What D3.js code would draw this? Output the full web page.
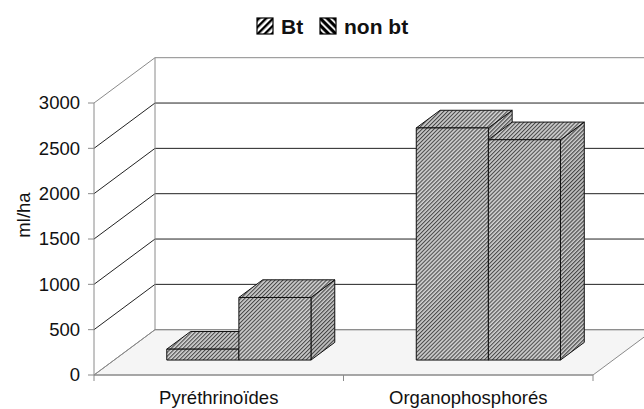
<!DOCTYPE html>
<html><head><meta charset="utf-8">
<script src="https://cdn.jsdelivr.net/npm/d3@7"></script>
<style>body{margin:0;background:#fff}svg{display:block;font-family:"Liberation Sans",Arial,Helvetica,sans-serif}</style>
</head><body><svg id="c" width="644" height="409"></svg>
<script>
const categories = ["Pyréthrinoïdes", "Organophosphorés"];
const seriesNames = ["Bt", "non bt"];
const btValues = [120, 2560];
const nonBtValues = [690, 2430];
const yTicks = [0, 500, 1000, 1500, 2000, 2500, 3000];
const yTitle = "ml/ha";

const svg = d3.select("#c");
const W = 644, H = 409;
const DX = 61, DY = -45.3;      // full depth offset
const Z0 = 0.33, Z1 = 0.72;      // depth occupied by bars

const x = d3.scaleBand().domain(categories).range([94, 593]).padding(0);
const xs = d3.scaleBand().domain(seriesNames).range([0, x.bandwidth()]).paddingInner(0).paddingOuter(0.73);
const y = d3.scaleLinear().domain([0, 3000]).range([375, 103]);
const P = (px, v, z) => [px + z * DX, y(v) + z * DY];
const poly = pts => pts.map(p => p.join(",")).join(" ");

const defs = svg.append("defs");
function stripe(id, bg, fg, w, sw, rot) {
  const p = defs.append("pattern").attr("id", id).attr("width", w).attr("height", w)
    .attr("patternUnits", "userSpaceOnUse").attr("patternTransform", `rotate(${rot})`);
  p.append("rect").attr("width", w).attr("height", w).attr("fill", bg);
  p.append("rect").attr("width", sw).attr("height", w).attr("fill", fg);
}
stripe("barHatch", "#d2d2d2", "#4a4a4a", 2.8, 1.1, 45);
stripe("barHatchSide", "#cbcbcb", "#444", 2.8, 1.15, 45);
stripe("legBt", "#fff", "#000", 5, 2.4, 45);
stripe("legNon", "#000", "#fff", 5, 1.8, -45);

// floor
const xL = x.range()[0], xR = x.range()[1];
svg.append("polygon").attr("points", poly([P(xL,0,0), P(xR,0,0), P(xR,0,1), P(xL,0,1)]))
  .attr("fill", "#f5f5f5").attr("stroke", "#8a8a8a").attr("stroke-width", 1);

// back wall gridlines
svg.append("g").selectAll("line").data(yTicks).join("line")
  .attr("x1", d => P(xL, d, 1)[0]).attr("x2", W + 5)
  .attr("y1", d => P(xL, d, 1)[1]).attr("y2", d => P(xL, d, 1)[1])
  .attr("stroke", d => d === 0 || d === 3000 ? "#8a8a8a" : "#222").attr("stroke-width", 1);
// side wall gridlines
svg.append("g").selectAll("line").data(yTicks).join("line")
  .attr("x1", d => P(xL, d, 0)[0]).attr("y1", d => P(xL, d, 0)[1])
  .attr("x2", d => P(xL, d, 1)[0]).attr("y2", d => P(xL, d, 1)[1])
  .attr("stroke", d => d === 0 || d === 3000 ? "#8a8a8a" : "#222").attr("stroke-width", 1);
// back left vertical edge
svg.append("line").attr("x1", P(xL,0,1)[0]).attr("y1", P(xL,0,1)[1])
  .attr("x2", P(xL,3000,1)[0]).attr("y2", P(xL,3000,1)[1]).attr("stroke", "#8a8a8a");

// y axis
svg.append("line").attr("x1", xL).attr("x2", xL).attr("y1", y(0)).attr("y2", y(3000)).attr("stroke", "#8a8a8a");
const yt = svg.append("g").selectAll("g").data(yTicks).join("g");
yt.append("line").attr("x1", xL - 6).attr("x2", xL).attr("y1", d => y(d)).attr("y2", d => y(d)).attr("stroke", "#8a8a8a");
yt.append("text").attr("x", 80).attr("y", d => y(d)).attr("dy", "0.35em").attr("text-anchor", "end")
  .attr("font-size", 18.5).attr("fill", "#111").text(d => d);

// x axis
svg.append("line").attr("x1", xL).attr("x2", xR).attr("y1", y(0)).attr("y2", y(0)).attr("stroke", "#8a8a8a");
const xTickPos = categories.map(c => x(c)).concat([xR]);
svg.append("g").selectAll("line").data(xTickPos).join("line")
  .attr("x1", d => d).attr("x2", d => d).attr("y1", y(0)).attr("y2", y(0) + 6).attr("stroke", "#8a8a8a");
svg.append("g").selectAll("text").data(categories).join("text")
  .attr("x", d => x(d) + x.bandwidth() / 2).attr("y", 404).attr("text-anchor", "middle")
  .attr("font-size", 18.5).attr("fill", "#111").text(d => d);

// y title
svg.append("text").attr("transform", "translate(30,215) rotate(-90)").attr("text-anchor", "middle")
  .attr("font-size", 18.5).attr("fill", "#111").text(yTitle);

// bars
const bars = [];
categories.forEach((c, i) => {
  [btValues[i], nonBtValues[i]].forEach((v, j) => {
    bars.push({ c, s: seriesNames[j], v });
  });
});
const bg = svg.append("g");
bars.forEach(b => {
  const l = x(b.c) + xs(b.s), r = l + xs.bandwidth();
  const g = bg.append("g");
  g.append("polygon").attr("points", poly([P(r,0,Z0), P(r,0,Z1), P(r,b.v,Z1), P(r,b.v,Z0)]))
    .attr("fill", "url(#barHatchSide)").attr("stroke", "#111").attr("stroke-width", 1);
  g.append("polygon").attr("points", poly([P(l,b.v,Z0), P(r,b.v,Z0), P(r,b.v,Z1), P(l,b.v,Z1)]))
    .attr("fill", "url(#barHatch)").attr("stroke", "#111").attr("stroke-width", 1);
  g.append("polygon").attr("points", poly([P(l,0,Z0), P(r,0,Z0), P(r,b.v,Z0), P(l,b.v,Z0)]))
    .attr("fill", "url(#barHatch)").attr("stroke", "#111").attr("stroke-width", 1);
});

// legend
const leg = svg.append("g");
const legItems = [{ n: seriesNames[0], f: "url(#legBt)", x: 257 }, { n: seriesNames[1], f: "url(#legNon)", x: 320 }];
legItems.forEach(it => {
  leg.append("rect").attr("x", it.x).attr("y", 18).attr("width", 16).attr("height", 16)
    .attr("fill", it.f).attr("stroke", "#000").attr("stroke-width", 1.2);
  leg.append("text").attr("x", it.x + 24).attr("y", 34).attr("font-size", 21).attr("font-weight", "bold")
    .attr("fill", "#111").text(it.n);
});
</script></body></html>
